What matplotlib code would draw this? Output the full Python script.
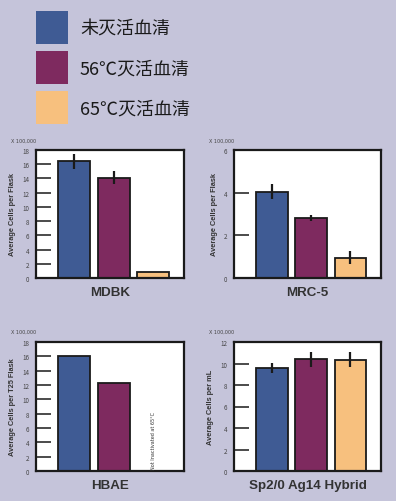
import matplotlib
matplotlib.use("Agg")
import matplotlib.pyplot as plt
from matplotlib.patches import Rectangle

plt.rcParams['font.family'] = ['Noto Sans CJK SC', 'DejaVu Sans']
SANS = ['Liberation Sans', 'DejaVu Sans']

legend_labels = ["未灭活血清", "56℃灭活血清", "65℃灭活血清"]
colors = ["#3f5b94", "#7e2a5f", "#f7c07e"]

panels = ["MDBK", "MRC-5", "HBAE", "Sp2/0 Ag14 Hybrid"]
ylabels = ["Average Cells per Flask", "Average Cells per Flask",
           "Average Cells per T25 Flask", "Average Cells per mL"]
ymax = [18, 6, 18, 12]
ystep = [2, 2, 2, 2]

mdbk_vals = [16.4, 14.1, 0.9]
mdbk_err = [1.1, 0.9, 0.0]
mrc5_vals = [4.05, 2.8, 0.95]
mrc5_err = [0.35, 0.15, 0.3]
hbae_vals = [16.1, 12.3, 0.0]
hbae_err = [0.0, 0.0, 0.0]
sp2_vals = [9.6, 10.4, 10.35]
sp2_err = [0.45, 0.7, 0.7]

values = [mdbk_vals, mrc5_vals, hbae_vals, sp2_vals]
errors = [mdbk_err, mrc5_err, hbae_err, sp2_err]
show_bar = [[True, True, True], [True, True, True], [True, True, False], [True, True, True]]

W, H = 396, 502
fig = plt.figure(figsize=(W / 100, H / 100), dpi=100)
fig.patch.set_facecolor("#c5c4da")

# legend
for i, (lab, c) in enumerate(zip(legend_labels, colors)):
    y0 = [12, 52, 92][i]
    fig.patches.append(Rectangle((36 / W, 1 - (y0 + 33) / H), 32 / W, 33 / H,
                                 transform=fig.transFigure, facecolor=c,
                                 edgecolor="none"))
    fig.text(80 / W, 1 - (y0 + 18) / H, lab, fontsize=13, color="#1a1a1a",
             va="center", ha="left")

# axes positions (left, top, right, bottom) in pixels
boxes = [(36, 151, 184, 279), (234, 151, 381, 279),
         (36, 343, 184, 472), (234, 343, 381, 472)]

x = [0, 1, 2]
for k in range(4):
    l, t, r, b = boxes[k]
    ax = fig.add_axes([l / W, 1 - b / H, (r - l) / W, (b - t) / H])
    ax.set_facecolor("white")
    vals = values[k]
    errs = errors[k]
    for i in range(3):
        if not show_bar[k][i]:
            continue
        ax.bar(x[i], vals[i], width=0.81, color=colors[i], edgecolor="#1a1a1a",
               linewidth=1.3, zorder=2)
        if errs[i] > 0:
            ax.errorbar(x[i], vals[i], yerr=errs[i], color="#1a1a1a",
                        elinewidth=1.6, capsize=0, zorder=3)
    ax.set_xlim(-0.97, 2.78)
    ax.set_ylim(0, ymax[k])
    ax.set_yticks(range(0, ymax[k] + 1, ystep[k]))
    ax.tick_params(axis="y", direction="in", length=11, width=1.1,
                   labelsize=4.5, pad=5, colors="#1a1a1a", labelcolor="#444444")
    ax.set_xticks([])
    for s in ax.spines.values():
        s.set_linewidth(1.6)
        s.set_color("#1a1a1a")
    ax.set_ylabel(ylabels[k], fontsize=5.3, fontweight="bold", color="#333333",
                  labelpad=4, family=SANS)
    ax.text(-0.17, 1.06, "X 100,000", transform=ax.transAxes, fontsize=3.5,
            color="#444444", ha="left", va="bottom", family="DejaVu Sans")
    ax.set_title(panels[k], y=-0.175, fontsize=9.6, fontweight="bold",
                 color="#333333", family=SANS, va="center")
    if k == 2:
        ax.text(2, 0.3, "Not Inactivated at 65°C", rotation=90, fontsize=3.5,
                ha="center", va="bottom", color="#333333", family="DejaVu Sans")

fig.savefig("out.png", dpi=100, facecolor=fig.get_facecolor())
